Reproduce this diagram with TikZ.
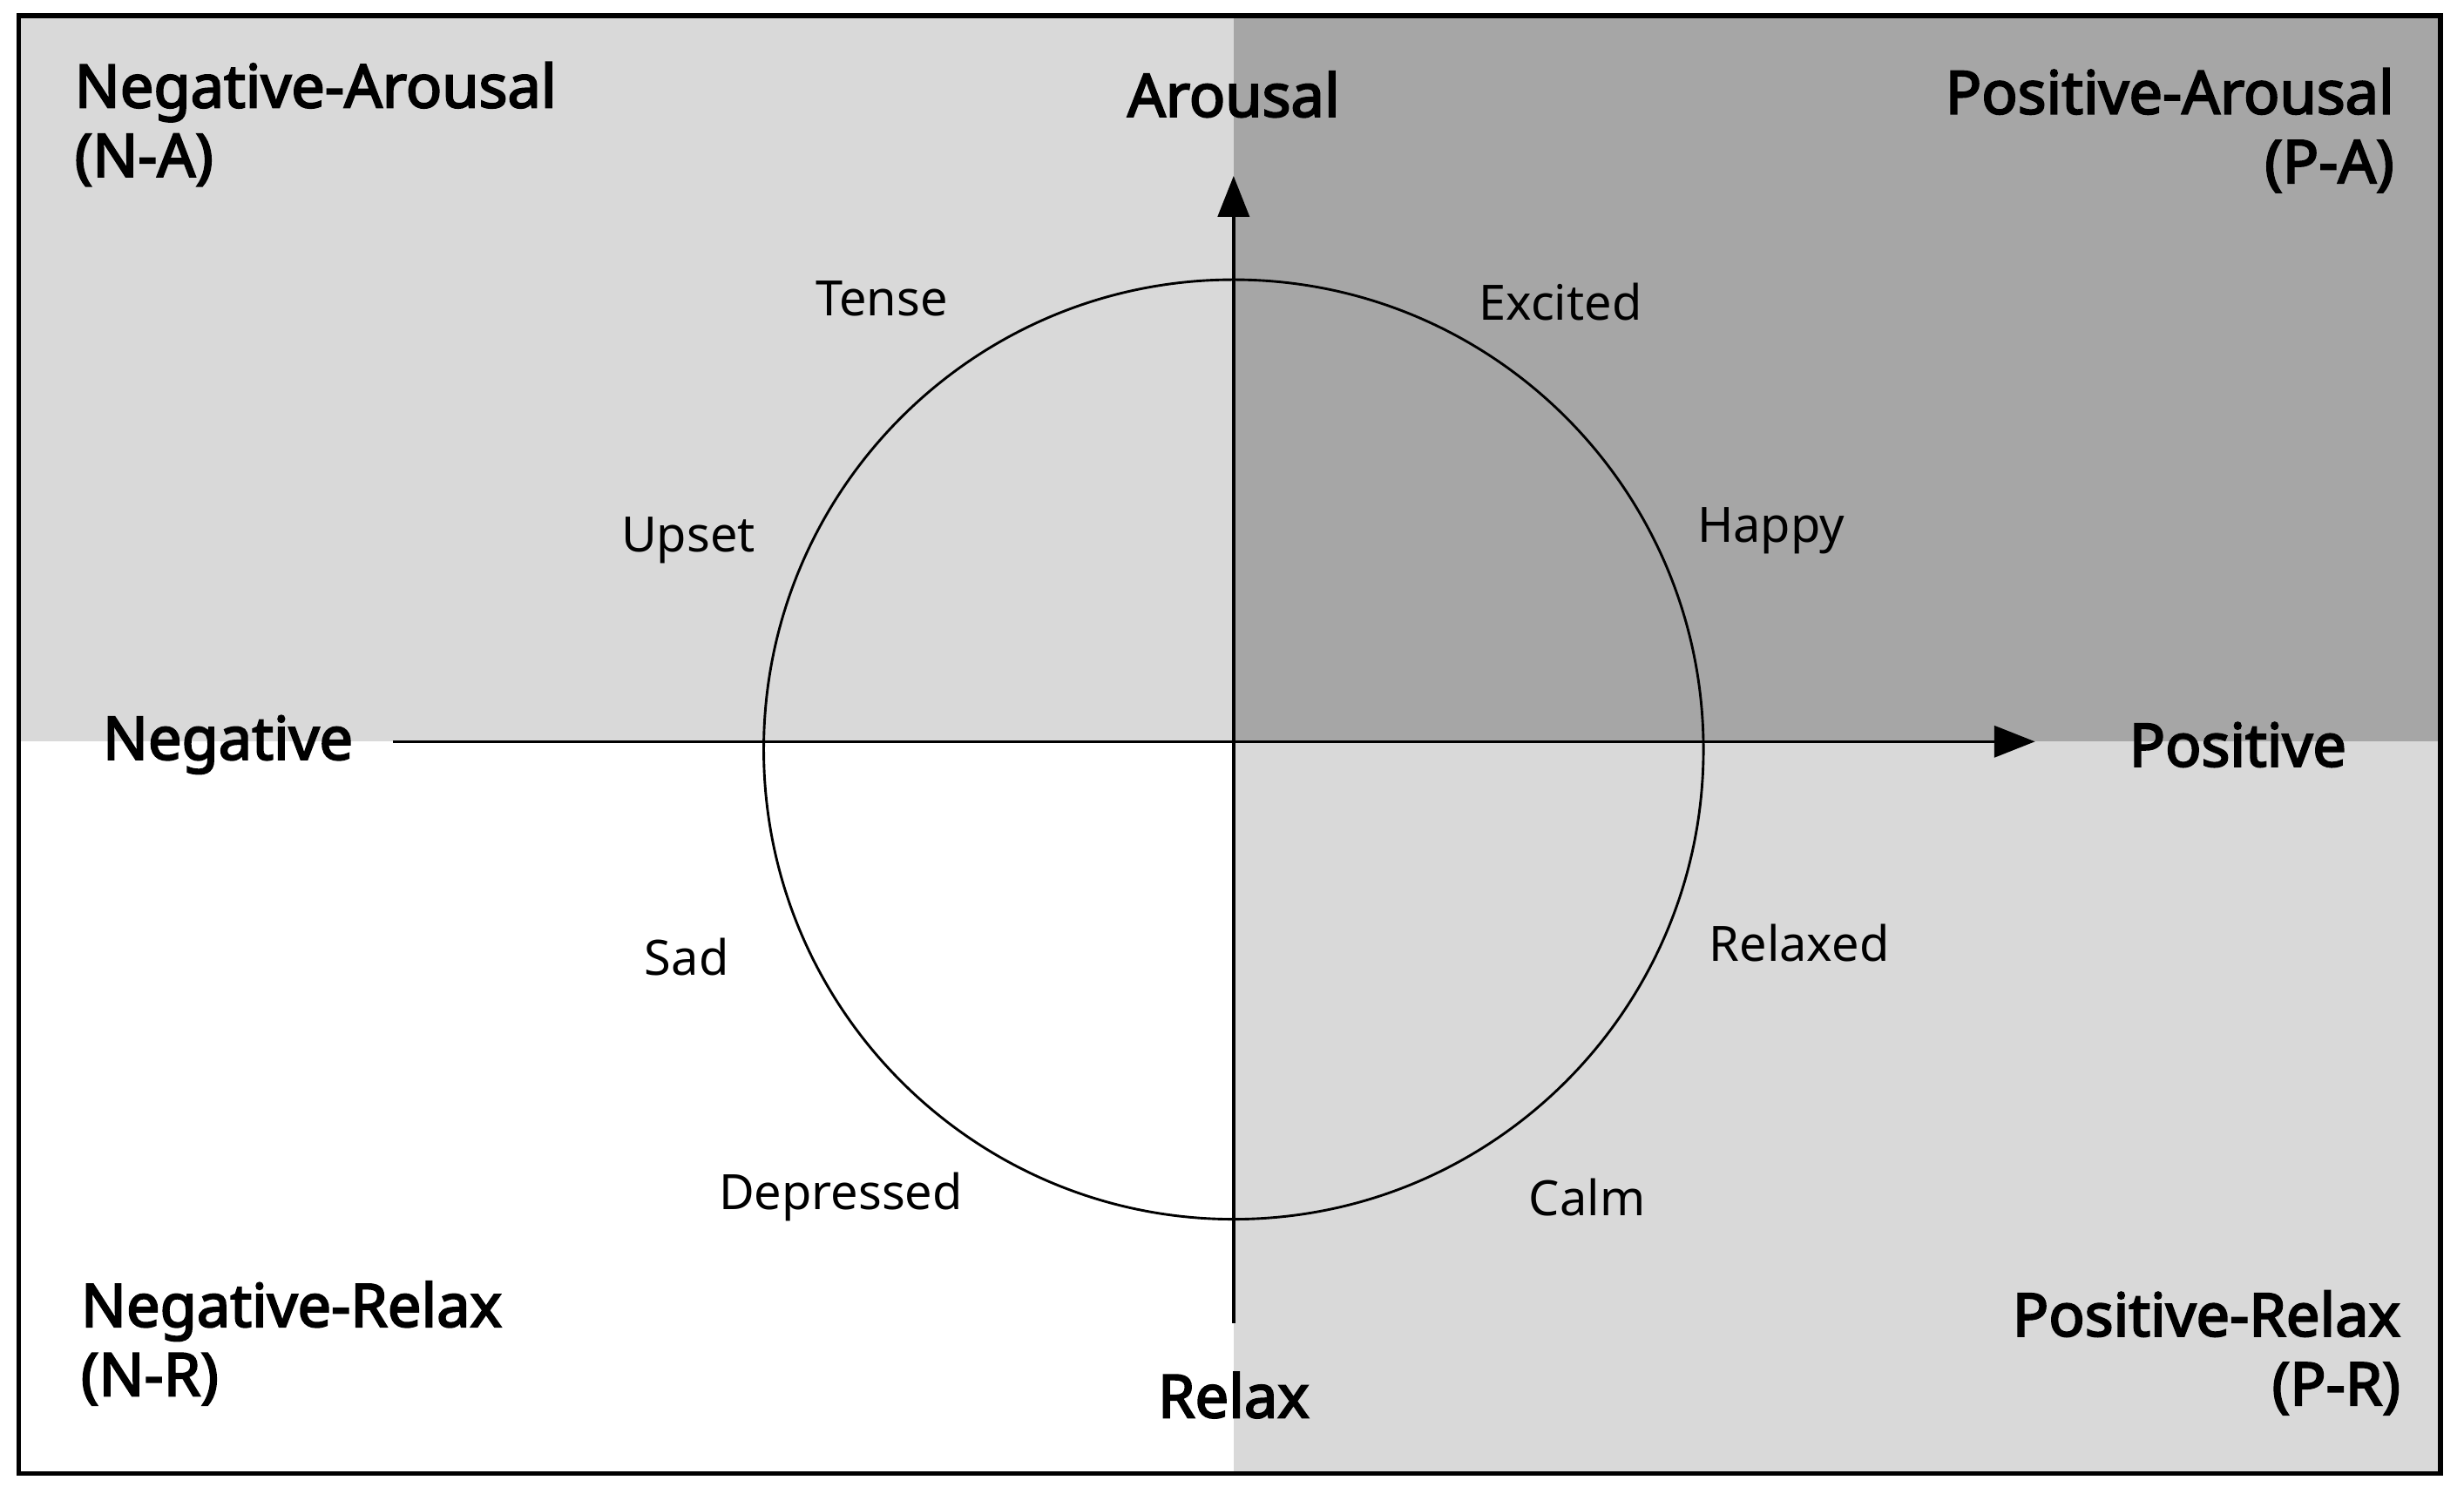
\documentclass[tikz,border=0pt]{standalone}
\usepackage{fontspec}
\setmainfont{Noto Sans}
\newfontfamily\bfam{Noto Sans}[FakeBold=3]
\usetikzlibrary{arrows.meta}
\begin{document}
\begin{tikzpicture}[x=1pt,y=-1pt,
  big/.style={font=\bfam\fontsize{38}{44}\selectfont, align=left},
  emo/.style={font=\fontsize{31}{36}\selectfont},
  ax/.style={line width=2pt, -{Triangle[length=26pt,width=20pt]}}]
\useasboundingbox (0,0) rectangle (1568,946);
\fill[white] (0,0) rectangle (1568,946);
\fill[gray!30] (12,10) rectangle (785,472);
\fill[gray!70] (785,10) rectangle (1553,472);
\fill[gray!30] (785,472) rectangle (1553,938);
\draw[line width=3pt] (12,10) rectangle (1553,938);
\node (c) at (785,472) {};
\coordinate (top) at (785,112);
\coordinate (bot) at (785,842);
\coordinate (lft) at (250,472);
\coordinate (rgt) at (1295,472);
\draw[ax] (bot) -- (top);
\draw[ax] (lft) -- (rgt);
\draw[line width=1.6pt] (785,477) circle (299);
\node[big] (ar) at (785,60) {Arousal};
\node[big] (rl) at (785,888) {Relax};
\node[big] (ng) at (145,474) {Negative};
\node[big] (ps) at (1424,474) {Positive};
\node[big,anchor=north west] (na) at (44,36) {Negative-Arousal\\(N-A)};
\node[big,anchor=north east,align=right] (pa) at (1527,40) {Positive-Arousal\\(P-A)};
\node[big,anchor=north west] (nr) at (48,812) {Negative-Relax\\(N-R)};
\node[big,anchor=north east,align=right] (pr) at (1531,818) {Positive-Relax\\(P-R)};
\node[emo] (t) at (561,190) {Tense};
\node[emo] (u) at (438,344) {Upset};
\node[emo] (s) at (437,609) {Sad};
\node[emo] (d) at (535,762) {Depressed};
\node[emo] (e) at (993,192) {Excited};
\node[emo] (h) at (1127,338) {Happy};
\node[emo] (r) at (1145,600) {Relaxed};
\node[emo] (cl) at (1010,762) {Calm};
\end{tikzpicture}
\end{document}
